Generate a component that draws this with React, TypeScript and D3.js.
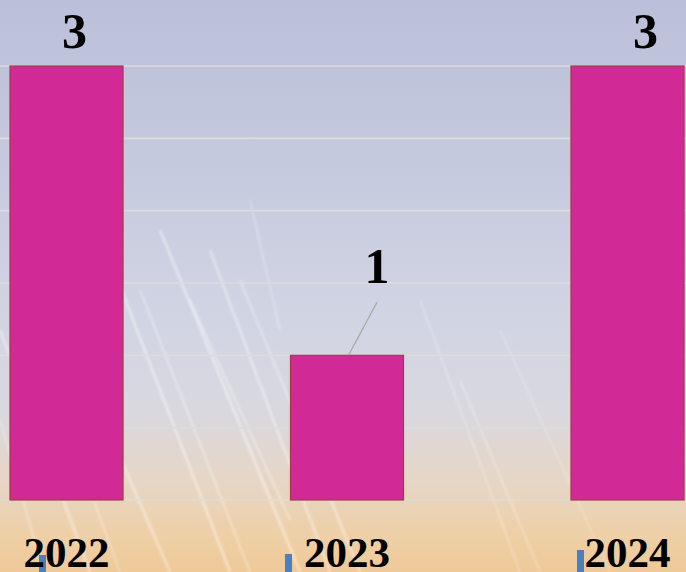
import React from "react";
import * as d3 from "d3";

const categories = ["2022", "2023", "2024"];
const values = [3, 1, 3];
const yTicks = [0, 0.5, 1, 1.5, 2, 2.5, 3];

const W = 686;
const H = 572;
const labelDx = [8, 30, 18];
const labelDy = [-18, -72, -18];

// decorative background streaks (wheat stems) : [x1, y1, x2, y2, width, opacity]
const streaks: number[][] = [
  [0, 330, 90, 572, 3, 0.35],
  [20, 300, 120, 572, 2, 0.3],
  [60, 320, 170, 572, 3, 0.35],
  [110, 260, 230, 572, 2.5, 0.45],
  [140, 290, 250, 572, 2, 0.35],
  [160, 230, 300, 572, 3, 0.4],
  [190, 300, 290, 520, 2, 0.35],
  [210, 250, 330, 572, 2.5, 0.4],
  [240, 280, 360, 572, 2, 0.35],
  [250, 200, 280, 330, 2, 0.25],
  [420, 300, 520, 572, 2, 0.25],
  [460, 380, 540, 572, 2, 0.25],
  [500, 330, 610, 572, 2, 0.2],
  [0, 420, 40, 560, 2, 0.3],
  [300, 420, 360, 572, 2, 0.2],
];

const blueMarks: number[][] = [
  [39, 555, 7],
  [285, 554, 7],
  [577, 550, 7],
];

export default function App() {
  const top = 66;
  const bottom = 500;
  const x = d3
    .scaleBand<string>()
    .domain(categories)
    .range([-73.75, 767.75])
    .paddingInner(0.597)
    .paddingOuter(0.2985);
  const y = d3.scaleLinear().domain([0, 3]).range([bottom, top]);

  return (
    <svg
      width={W}
      height={H}
      style={{ position: "fixed", left: 0, top: 0, display: "block" }}
      fontFamily="'Liberation Serif', 'Times New Roman', serif"
    >
      <defs>
        <linearGradient id="bg" x1="0" y1="0" x2="0" y2="1">
          <stop offset="0" stopColor="#bbbfd9" />
          <stop offset="0.3" stopColor="#c6cade" />
          <stop offset="0.55" stopColor="#d0d4e3" />
          <stop offset="0.72" stopColor="#d9d8df" />
          <stop offset="0.84" stopColor="#e6d6c6" />
          <stop offset="0.93" stopColor="#eed0a8" />
          <stop offset="1" stopColor="#efc997" />
        </linearGradient>
        <filter id="blur" x="-20%" y="-20%" width="140%" height="140%">
          <feGaussianBlur stdDeviation="1.2" />
        </filter>
      </defs>
      <rect x={0} y={0} width={W} height={H} fill="url(#bg)" />
      <g filter="url(#blur)">
        {streaks.map((s, i) => (
          <line
            key={i}
            x1={s[0]}
            y1={s[1]}
            x2={s[2]}
            y2={s[3]}
            stroke="#ffffff"
            strokeWidth={s[4]}
            strokeOpacity={s[5]}
          />
        ))}
      </g>
      {yTicks.map((t) => (
        <line
          key={t}
          x1={0}
          x2={W}
          y1={y(t)}
          y2={y(t)}
          stroke="#dcdcdc"
          strokeWidth={1.6}
        />
      ))}
      {categories.map((c, i) => (
        <rect
          key={c}
          x={x(c)!}
          y={y(values[i])}
          width={x.bandwidth()}
          height={y(0) - y(values[i])}
          fill="#d12a96"
          stroke="#a23c40"
          strokeWidth={1.2}
        />
      ))}
      {categories.map((c, i) => {
        const cx = x(c)! + x.bandwidth() / 2;
        const lx = cx + labelDx[i];
        const ly = y(values[i]) + labelDy[i];
        return (
          <g key={"l" + c}>
            {i === 1 && (
              <line
                x1={lx}
                y1={ly + 19}
                x2={cx + 1.5}
                y2={y(values[i])}
                stroke="#a6a6a6"
                strokeWidth={1.2}
              />
            )}
            <text
              x={lx}
              y={ly}
              textAnchor="middle"
              fontSize={50}
              fontWeight="bold"
              fill="#000"
            >
              {values[i]}
            </text>
          </g>
        );
      })}
      {blueMarks.map((b, i) => (
        <rect key={"b" + i} x={b[0]} y={b[1]} width={b[2]} height={H - b[1]} fill="#4a7fc0" />
      ))}
      {categories.map((c) => (
        <text
          key={"t" + c}
          x={x(c)! + x.bandwidth() / 2}
          y={567}
          textAnchor="middle"
          fontSize={43}
          fontWeight="bold"
          fill="#000"
        >
          {c}
        </text>
      ))}
    </svg>
  );
}
